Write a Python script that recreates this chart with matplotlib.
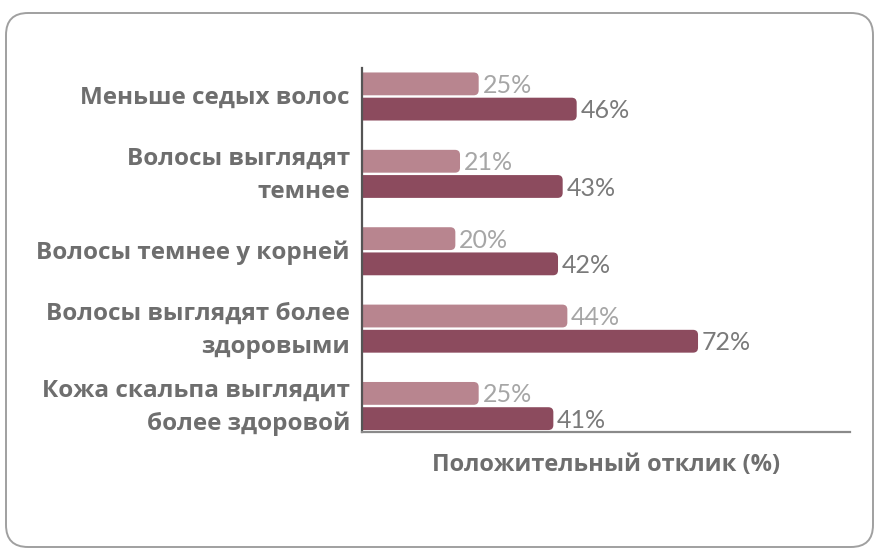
import matplotlib
matplotlib.use("Agg")
import matplotlib.pyplot as plt
from matplotlib.patches import FancyBboxPatch

categories = [
    "Меньше седых волос",
    "Волосы выглядят\nтемнее",
    "Волосы темнее у корней",
    "Волосы выглядят более\nздоровыми",
    "Кожа скальпа выглядит\nболее здоровой",
]
light_values = [25, 21, 20, 44, 25]
dark_values = [46, 43, 42, 72, 41]
xlabel = "Положительный отклик (%)"

light_color = "#b8858f"
dark_color = "#8c4b5e"
text_color = "#6e6e6e"
light_value_color = "#a6a6a6"
dark_value_color = "#7a7a7a"

W, H = 881, 557
fig = plt.figure(figsize=(W / 100, H / 100), dpi=100)
fig.patch.set_facecolor("white")

# outer rounded frame
frame = FancyBboxPatch((6 / W, 10 / H), (W - 8) / W - 6 / W, (H - 13) / H - 10 / H,
                       boxstyle="round,pad=0,rounding_size=0.025",
                       mutation_aspect=W / H,
                       transform=fig.transFigure, facecolor="none",
                       edgecolor="#a0a0a0", linewidth=1.4, zorder=-1)
fig.patches.append(frame)

ax_left, ax_right, ax_top, ax_bottom = 362, 850, 68, 432
ax = fig.add_axes([ax_left / W, 1 - ax_bottom / H,
                   (ax_right - ax_left) / W, (ax_bottom - ax_top) / H])
ax.set_facecolor("none")

px_per_unit_x = 4.667
px_per_unit_y = 77.4
xmax = (ax_right - ax_left) / px_per_unit_x
ax.set_xlim(0, xmax)
ymin = -(96.5 - ax_top) / px_per_unit_y
ymax = 4 + (ax_bottom - 406) / px_per_unit_y
ax.set_ylim(ymax, ymin)

bar_h = 0.295
offset = 0.163
radius = 5 / px_per_unit_x
aspect = px_per_unit_x / px_per_unit_y
start = -1.5

for i, (lv, dv) in enumerate(zip(light_values, dark_values)):
    for val, dy, col, tcol in ((lv, -offset, light_color, light_value_color),
                               (dv, offset, dark_color, dark_value_color)):
        yc = i + dy
        p = FancyBboxPatch((start, yc - bar_h / 2), val - start, bar_h,
                           boxstyle=f"round,pad=0,rounding_size={radius}",
                           mutation_aspect=aspect,
                           facecolor=col, edgecolor="none", zorder=2)
        ax.add_patch(p)
        ax.text(val + 0.8, yc + 0.02, f"{val}%", ha="left", va="center",
                fontsize=18, color=tcol, family="Lato", zorder=3)

for i, cat in enumerate(categories):
    ax.text(-12 / px_per_unit_x, i + 0.02, cat, ha="right", va="center",
            fontsize=17.5, fontweight="bold", color=text_color,
            family="Open Sans", linespacing=1.5, clip_on=False)

ax.set_yticks([])
ax.set_xticks([])
for s in ("top", "right"):
    ax.spines[s].set_visible(False)
ax.spines["left"].set_color("#555555")
ax.spines["left"].set_linewidth(1.6)
ax.spines["bottom"].set_color("#8a8a8a")
ax.spines["bottom"].set_linewidth(1.6)

fig.text(606 / W, 1 - 465 / H, xlabel, ha="center", va="center",
         fontsize=17, fontweight="bold", color=text_color, family="Open Sans")

fig.savefig("out.png", dpi=100)
